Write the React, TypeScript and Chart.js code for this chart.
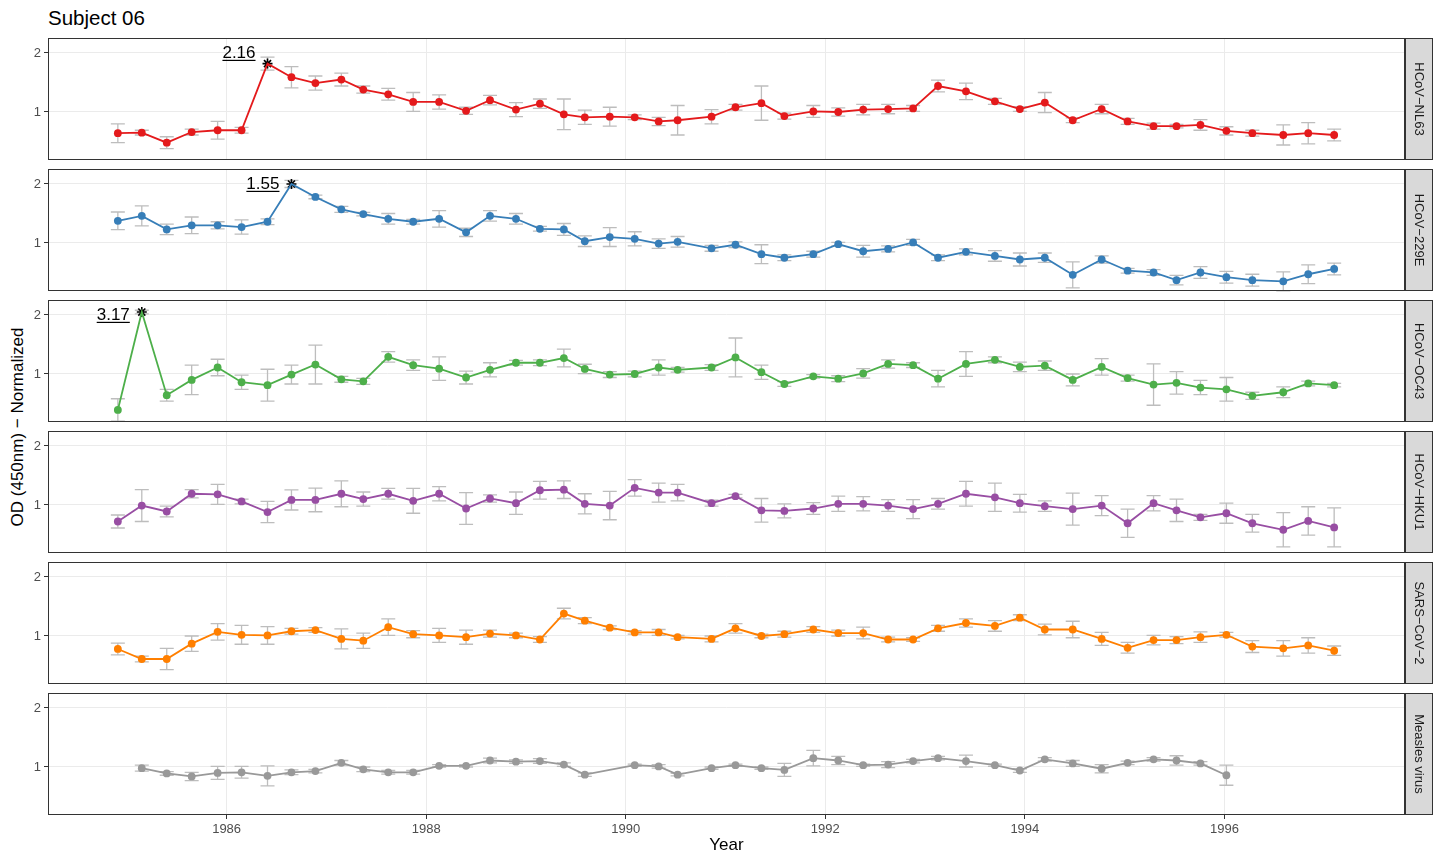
import React, { useEffect, useRef } from "react";
import { Chart, registerables } from "chart.js";

Chart.register(...registerables);

const FONT = '"Liberation Sans", Arial, Helvetica, sans-serif';
Chart.defaults.font.family = FONT;

// Sampling times (decimal years), shared by all panels
const sampleYears = [
  1984.91, 1985.15, 1985.40, 1985.65, 1985.91, 1986.15, 1986.41, 1986.65, 1986.89, 1987.15,
  1987.37, 1987.62, 1987.87, 1988.13, 1988.40, 1988.64, 1988.90, 1989.14, 1989.38, 1989.59,
  1989.84, 1990.09, 1990.33, 1990.52, 1990.86, 1991.10, 1991.36, 1991.59, 1991.88, 1992.13,
  1992.38, 1992.63, 1992.88, 1993.13, 1993.41, 1993.70, 1993.95, 1994.20, 1994.48, 1994.77,
  1995.03, 1995.29, 1995.52, 1995.76, 1996.02, 1996.28, 1996.59, 1996.84, 1997.10,
];

const xTickYears = [1986, 1988, 1990, 1992, 1994, 1996];
const yTickValues = [1, 2];

const panelNames = ["HCoV\u2212NL63", "HCoV\u2212229E", "HCoV\u2212OC43", "HCoV\u2212HKU1", "SARS\u2212CoV\u22122", "Measles virus"];
const panelColors = ["#e41a1c", "#377eb8", "#4daf4a", "#984ea3", "#ff7f00", "#999999"];

const nl63Values = [
  0.64, 0.65, 0.48, 0.66, 0.69, 0.69, 1.82, 1.59, 1.49, 1.55,
  1.38, 1.30, 1.17, 1.17, 1.02, 1.20, 1.04, 1.14, 0.96, 0.91,
  0.92, 0.91, 0.84, 0.86, 0.92, 1.08, 1.15, 0.93, 1.01, 1.00,
  1.04, 1.05, 1.06, 1.44, 1.35, 1.18, 1.05, 1.16, 0.86, 1.05,
  0.84, 0.76, 0.76, 0.78, 0.68, 0.64, 0.61, 0.64, 0.61,
];
const nl63Errors = [
  0.16, 0.04, 0.10, 0.05, 0.15, 0.05, 0.11, 0.18, 0.12, 0.11,
  0.06, 0.10, 0.16, 0.12, 0.06, 0.08, 0.12, 0.08, 0.26, 0.12,
  0.16, 0.04, 0.07, 0.25, 0.12, 0.05, 0.29, 0.05, 0.10, 0.07,
  0.09, 0.08, 0.05, 0.10, 0.14, 0.05, 0.04, 0.17, 0.04, 0.08,
  0.05, 0.05, 0.03, 0.09, 0.07, 0.05, 0.17, 0.18, 0.10,
];

const e229Values = [
  1.375, 1.46, 1.23, 1.30, 1.30, 1.27, 1.36, 2.00, 1.78, 1.57,
  1.49, 1.41, 1.36, 1.41, 1.18, 1.46, 1.41, 1.24, 1.23, 1.03,
  1.10, 1.07, 0.99, 1.02, 0.91, 0.97, 0.81, 0.75, 0.81, 0.98,
  0.86, 0.90, 1.01, 0.75, 0.85, 0.78, 0.72, 0.75, 0.46, 0.72,
  0.53, 0.50, 0.37, 0.50, 0.42, 0.37, 0.35, 0.47, 0.56,
];
const e229Errors = [
  0.15, 0.17, 0.09, 0.14, 0.06, 0.12, 0.05, 0.06, 0.03, 0.05,
  0.03, 0.09, 0.04, 0.14, 0.07, 0.09, 0.09, 0.04, 0.10, 0.09,
  0.16, 0.12, 0.08, 0.09, 0.05, 0.05, 0.16, 0.05, 0.05, 0.03,
  0.10, 0.05, 0.05, 0.05, 0.05, 0.09, 0.11, 0.08, 0.22, 0.06,
  0.04, 0.05, 0.08, 0.10, 0.10, 0.10, 0.16, 0.16, 0.10,
];

const oc43Values = [
  0.39, 2.05, 0.64, 0.90, 1.11, 0.86, 0.81, 0.99, 1.16, 0.91,
  0.875, 1.29, 1.15, 1.09, 0.94, 1.07, 1.19, 1.19, 1.27, 1.085,
  0.99, 1.00, 1.11, 1.07, 1.11, 1.28, 1.03, 0.83, 0.96, 0.92,
  1.01, 1.17, 1.15, 0.92, 1.17, 1.24, 1.12, 1.14, 0.90, 1.12,
  0.93, 0.82, 0.85, 0.77, 0.74, 0.63, 0.69, 0.84, 0.81,
];
const oc43Errors = [
  0.19, 0.03, 0.10, 0.25, 0.14, 0.12, 0.27, 0.16, 0.33, 0.05,
  0.05, 0.09, 0.09, 0.20, 0.11, 0.12, 0.04, 0.05, 0.15, 0.08,
  0.05, 0.05, 0.13, 0.04, 0.05, 0.33, 0.12, 0.04, 0.03, 0.05,
  0.08, 0.07, 0.04, 0.14, 0.21, 0.05, 0.08, 0.08, 0.10, 0.14,
  0.05, 0.35, 0.19, 0.12, 0.20, 0.06, 0.09, 0.04, 0.03,
];

const hku1Values = [
  0.72, 0.99, 0.89, 1.19, 1.18, 1.06, 0.88, 1.085, 1.085, 1.19,
  1.10, 1.19, 1.07, 1.19, 0.94, 1.11, 1.03, 1.25, 1.26, 1.02,
  0.99, 1.29, 1.21, 1.21, 1.03, 1.15, 0.91, 0.90, 0.94, 1.02,
  1.02, 0.99, 0.93, 1.02, 1.19, 1.13, 1.03, 0.98, 0.93, 0.99,
  0.69, 1.03, 0.91, 0.79, 0.86, 0.69, 0.58, 0.73, 0.62,
];
const hku1Errors = [
  0.11, 0.27, 0.09, 0.07, 0.17, 0.04, 0.18, 0.17, 0.20, 0.22,
  0.12, 0.09, 0.21, 0.12, 0.27, 0.06, 0.19, 0.15, 0.15, 0.17,
  0.24, 0.14, 0.16, 0.14, 0.05, 0.03, 0.20, 0.12, 0.10, 0.13,
  0.12, 0.10, 0.16, 0.09, 0.21, 0.24, 0.15, 0.09, 0.27, 0.17,
  0.24, 0.13, 0.19, 0.05, 0.17, 0.15, 0.29, 0.24, 0.33,
];

const sars2Values = [
  0.78, 0.61, 0.61, 0.87, 1.07, 1.02, 1.01, 1.08, 1.10, 0.95,
  0.92, 1.15, 1.03, 1.01, 0.98, 1.04, 1.01, 0.94, 1.38, 1.26,
  1.14, 1.06, 1.06, 0.98, 0.95, 1.13, 1.00, 1.03, 1.11, 1.05,
  1.05, 0.94, 0.94, 1.13, 1.22, 1.17, 1.31, 1.11, 1.11, 0.95,
  0.80, 0.93, 0.93, 0.98, 1.02, 0.82, 0.79, 0.84, 0.75,
];
const sars2Errors = [
  0.10, 0.05, 0.18, 0.13, 0.14, 0.16, 0.15, 0.05, 0.04, 0.17,
  0.13, 0.14, 0.06, 0.12, 0.12, 0.06, 0.04, 0.05, 0.09, 0.05,
  0.03, 0.03, 0.05, 0.03, 0.05, 0.08, 0.03, 0.05, 0.05, 0.05,
  0.10, 0.04, 0.03, 0.05, 0.07, 0.09, 0.05, 0.09, 0.14, 0.11,
  0.09, 0.08, 0.06, 0.09, 0.04, 0.10, 0.13, 0.13, 0.08,
];

const measlesValues = [
  null, 0.98, 0.89, 0.84, 0.90, 0.91, 0.85, 0.91, 0.93, 1.07,
  0.96, 0.91, 0.91, 1.02, 1.02, 1.11, 1.09, 1.10, 1.04, 0.87,
  null, 1.03, 1.01, 0.87, 0.98, 1.03, 0.98, 0.95, 1.15, 1.11,
  1.03, 1.04, 1.10, 1.15, 1.10, 1.03, 0.94, 1.13, 1.06, 0.97,
  1.07, 1.13, 1.11, 1.06, 0.86, null, null, null, null,
];
const measlesErrors = [
  null, 0.05, 0.03, 0.07, 0.11, 0.10, 0.17, 0.04, 0.03, 0.04,
  0.04, 0.03, 0.03, 0.02, 0.02, 0.04, 0.03, 0.04, 0.03, 0.03,
  null, 0.02, 0.03, 0.02, 0.02, 0.02, 0.02, 0.11, 0.13, 0.07,
  0.02, 0.05, 0.03, 0.03, 0.10, 0.02, 0.03, 0.03, 0.05, 0.07,
  0.03, 0.03, 0.08, 0.03, 0.17, null, null, null, null,
];

const panelValues = [nl63Values, e229Values, oc43Values, hku1Values, sars2Values, measlesValues];
const panelErrors = [nl63Errors, e229Errors, oc43Errors, hku1Errors, sars2Errors, measlesErrors];

// Peak (maximum fold change) markers
const peakIndex = [6, 7, 1, -1, -1, -1];
const peakLabels = ["2.16", "1.55", "3.17", "", "", ""];
const peakLabelLevel = 2.02;

// Layout
const PAGE_W = 1440;
const PAGE_H = 857;
const PANEL_TOP0 = 38;
const PANEL_STEP = 131;
const PANEL_H = 122;
const PAD = 4;
const PLOT_LEFT = 48;
const PLOT_RIGHT = 1405;
const STRIP_W = 28;
const X_MIN = 1984.21;
const X_MAX = 1997.81;
const Y_MIN = 0.186;
const Y_MAX = 2.254;

function Panel({ idx }: { idx: number }) {
  const ref = useRef<HTMLCanvasElement | null>(null);
  const isLast = idx === panelNames.length - 1;
  const top = PANEL_TOP0 + idx * PANEL_STEP - PAD;
  const height = isLast ? PAGE_H - top : PANEL_H + 2 * PAD;

  useEffect(() => {
    const canvas = ref.current;
    if (!canvas) return;
    const color = panelColors[idx];
    const values = panelValues[idx];
    const errors = panelErrors[idx];
    const peak = peakIndex[idx];
    const name = panelNames[idx];

    const points = sampleYears.map((x, i) => ({ x, y: values[i] }));
    const datasets: any[] = [
      {
        type: "line",
        data: points,
        borderColor: color,
        backgroundColor: color,
        borderWidth: 1.8,
        pointRadius: (c: any) => (c.dataIndex === peak ? 0 : 3.9),
        pointBorderWidth: 0,
        pointBackgroundColor: color,
        spanGaps: true,
        tension: 0,
      },
    ];
    if (peak >= 0) {
      datasets.push({
        type: "scatter",
        data: [{ x: sampleYears[peak], y: values[peak] }],
        pointStyle: "star",
        pointRadius: 5,
        borderColor: "#000",
        backgroundColor: "#000",
        borderWidth: 1.6,
        showLine: false,
      });
    }

    const errorBarPlugin = {
      id: "errorBars",
      beforeDatasetsDraw(chart: any) {
        const xs = chart.scales.x;
        const ys = chart.scales.y;
        const ctx = chart.ctx;
        ctx.save();
        ctx.strokeStyle = "#bdbdbd";
        ctx.lineWidth = 1.3;
        sampleYears.forEach((t, i) => {
          const v = values[i];
          const e = errors[i];
          if (v == null || e == null) return;
          const x = xs.getPixelForValue(t);
          const y1 = ys.getPixelForValue(v + e);
          const y2 = ys.getPixelForValue(v - e);
          ctx.beginPath();
          ctx.moveTo(x, y1);
          ctx.lineTo(x, y2);
          ctx.moveTo(x - 7, y1);
          ctx.lineTo(x + 7, y1);
          ctx.moveTo(x - 7, y2);
          ctx.lineTo(x + 7, y2);
          ctx.stroke();
        });
        ctx.restore();
      },
    };

    const peakPlugin = {
      id: "peakLabel",
      afterDatasetsDraw(chart: any) {
        if (peak < 0) return;
        const xs = chart.scales.x;
        const ys = chart.scales.y;
        const ctx = chart.ctx;
        const label = peakLabels[idx];
        const x = xs.getPixelForValue(sampleYears[peak]) - 12;
        const base = ys.getPixelForValue(peakLabelLevel) + 6;
        ctx.save();
        ctx.font = `17px ${FONT}`;
        ctx.fillStyle = "#000";
        ctx.textAlign = "right";
        ctx.textBaseline = "alphabetic";
        ctx.fillText(label, x, base);
        const w = ctx.measureText(label).width;
        ctx.fillRect(x - w, base + 2, w, 1.2);
        ctx.restore();
      },
    };

    const framePlugin = {
      id: "facetFrame",
      afterDraw(chart: any) {
        const ctx = chart.ctx;
        const a = chart.chartArea;
        const l = Math.round(a.left);
        const t = Math.round(a.top);
        const r = Math.round(a.right);
        const b = Math.round(a.bottom);
        ctx.save();
        ctx.strokeStyle = "#333333";
        ctx.lineWidth = 1;
        ctx.strokeRect(l + 0.5, t + 0.5, r - l - 1, b - t - 1);
        ctx.fillStyle = "#d9d9d9";
        ctx.fillRect(r, t, STRIP_W, b - t);
        ctx.strokeRect(r + 0.5, t + 0.5, STRIP_W - 1, b - t - 1);
        ctx.translate(r + STRIP_W / 2, (t + b) / 2);
        ctx.rotate(Math.PI / 2);
        ctx.fillStyle = "#1a1a1a";
        ctx.font = `13px ${FONT}`;
        ctx.textAlign = "center";
        ctx.textBaseline = "middle";
        ctx.fillText(name, 0, 0);
        ctx.restore();
      },
    };

    const chart = new Chart(canvas, {
      type: "line",
      data: { datasets },
      options: {
        animation: false,
        responsive: false,
        devicePixelRatio: 1,
        events: [],
        layout: {
          autoPadding: false,
          padding: { left: 0, top: PAD, right: PAGE_W - PLOT_RIGHT, bottom: isLast ? 0 : PAD },
        },
        plugins: {
          legend: { display: false },
          tooltip: { enabled: false },
        },
        scales: {
          x: {
            type: "linear",
            min: X_MIN,
            max: X_MAX,
            afterBuildTicks: (s: any) => {
              s.ticks = xTickYears.map((v) => ({ value: v }));
            },
            afterFit: (s: any) => {
              s.height = isLast ? PAGE_H - (PANEL_TOP0 + idx * PANEL_STEP + PANEL_H) : 0;
              s.paddingLeft = 0;
              s.paddingRight = 0;
              s.paddingTop = 0;
              s.paddingBottom = 0;
            },
            border: { display: false },
            grid: {
              color: "#ebebeb",
              lineWidth: 1,
              drawTicks: isLast,
              tickLength: 4,
              tickColor: "#333333",
            },
            ticks: {
              display: isLast,
              padding: 3,
              color: "#4d4d4d",
              font: { size: 13 },
              maxRotation: 0,
              autoSkip: false,
              callback: (v: any) => String(v),
            },
            title: {
              display: isLast,
              text: "Year",
              color: "#000",
              font: { size: 17 },
              padding: { top: 0, bottom: 1 },
            },
          },
          y: {
            type: "linear",
            min: Y_MIN,
            max: Y_MAX,
            afterBuildTicks: (s: any) => {
              s.ticks = yTickValues.map((v) => ({ value: v }));
            },
            afterFit: (s: any) => {
              s.width = PLOT_LEFT;
              s.paddingLeft = 0;
              s.paddingRight = 0;
              s.paddingTop = 0;
              s.paddingBottom = 0;
            },
            border: { display: false },
            grid: {
              color: "#ebebeb",
              lineWidth: 1,
              drawTicks: true,
              tickLength: 4,
              tickColor: "#333333",
            },
            ticks: {
              padding: 3,
              color: "#4d4d4d",
              font: { size: 13 },
              callback: (v: any) => String(v),
            },
          },
        },
      } as any,
      plugins: [errorBarPlugin, peakPlugin, framePlugin],
    });
    return () => chart.destroy();
  }, [idx, isLast]);

  return (
    <canvas
      ref={ref}
      width={PAGE_W}
      height={height}
      style={{ position: "absolute", left: 0, top, width: PAGE_W, height }}
    />
  );
}

export default function App() {
  return (
    <div
      style={{
        position: "fixed",
        left: 0,
        top: 0,
        width: PAGE_W,
        height: PAGE_H,
        background: "#ffffff",
        overflow: "hidden",
        fontFamily: FONT,
      }}
    >
      <div
        style={{
          position: "absolute",
          left: PLOT_LEFT,
          top: 8,
          fontSize: 20.5,
          lineHeight: "20px",
          color: "#000",
          whiteSpace: "nowrap",
        }}
      >
        Subject 06
      </div>
      <div
        style={{
          position: "absolute",
          left: 18 - 200,
          top: 426.5 - 10,
          width: 400,
          height: 20,
          lineHeight: "20px",
          fontSize: 17,
          textAlign: "center",
          transform: "rotate(-90deg)",
          color: "#000",
          whiteSpace: "nowrap",
        }}
      >
        OD (450nm) {"\u2212"} Normalized
      </div>
      {panelNames.map((n, i) => (
        <Panel key={n} idx={i} />
      ))}
    </div>
  );
}
